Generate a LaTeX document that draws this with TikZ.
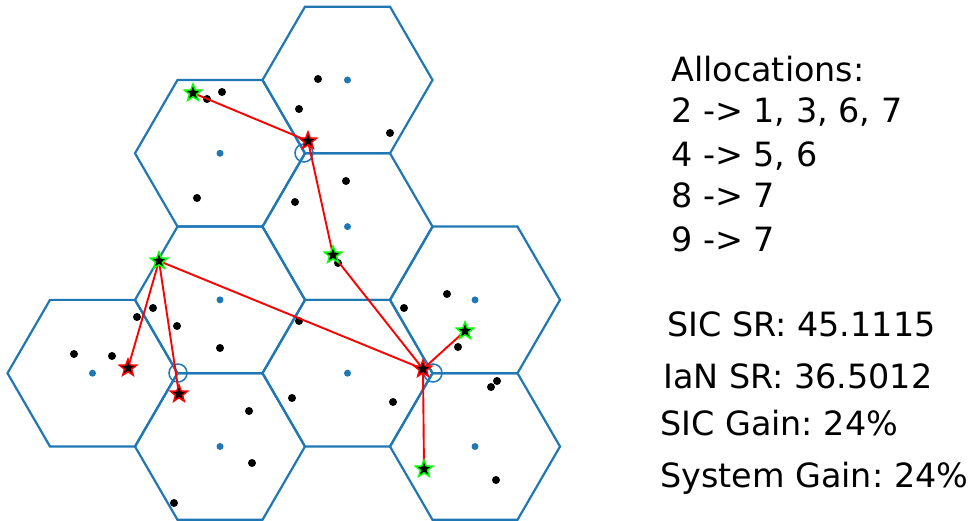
\documentclass[tikz,border=0pt]{standalone}
\usepackage{fontspec}
\setmainfont{DejaVu Sans}
\usetikzlibrary{shapes.geometric}
\definecolor{hexblue}{HTML}{1F77B4}
\definecolor{ugreen}{RGB}{0,255,0}
\definecolor{lred}{RGB}{255,0,0}
\frenchspacing
\begin{document}
\begin{tikzpicture}[x=1pt,y=-1pt,
  hexline/.style={draw=hexblue,line width=2.2pt,line join=miter},
  bsdot/.style={circle,fill=hexblue,inner sep=0,minimum size=7pt},
  udot/.style={circle,fill=black,inner sep=0,minimum size=8pt},
  link/.style={draw=lred,line width=1.9pt},
  starbase/.style={star,star points=5,star point ratio=2.4,minimum size=18pt,inner sep=0,fill=black,line width=1.5pt},
  redstar/.style={starbase,draw=lred},
  greenstar/.style={starbase,draw=ugreen},
  vcirc/.style={circle,draw=hexblue,line width=1.5pt,minimum size=18pt,inner sep=0},
  txt/.style={anchor=base west,inner sep=0,font=\fontsize{33.4}{40}\selectfont}
]
\useasboundingbox (0,0) rectangle (972,521);
% hexagons
\foreach \cx/\cy in {347.5/80, 220/153.3, 347.5/226.6, 220/299.9, 475/299.9, 92.5/373.2, 347.5/373.2, 220/446.5, 475/446.5}
  \draw[hexline] ({\cx-85},\cy) -- ({\cx-42.5},{\cy-73.3}) -- ({\cx+42.5},{\cy-73.3}) -- ({\cx+85},\cy) -- ({\cx+42.5},{\cy+73.3}) -- ({\cx-42.5},{\cy+73.3}) -- cycle;
% base station dots
\foreach \n/\cx/\cy in {1/347.5/80, 2/220/153.3, 3/347.5/226.6, 4/220/299.9, 5/475/299.9, 6/92.5/373.2, 7/347.5/373.2, 8/220/446.5, 9/475/446.5}
  \node[bsdot] (bs\n) at (\cx,\cy) {};
% user dots
\foreach \n/\x/\y in {1/318/79, 2/299/109, 3/390/133, 4/207/99, 5/222/92, 6/197/198,
  7/346/181, 8/295/202, 9/338/263, 10/153/308, 11/177/326, 12/220/348, 13/299/321,
  14/137/317, 15/74/354, 16/112/356, 17/292/398, 18/393/402, 19/447/294, 20/404/308,
  21/458/347, 22/497/381, 23/491/387, 24/496/480, 25/249/411, 26/252/463, 27/174/503}
  \node[udot] (u\n) at (\x,\y) {};
% vertex circles
\node[vcirc] (c1) at (304,153) {};
\node[vcirc] (c2) at (178,373) {};
\node[vcirc] (c3) at (433,373) {};
% star positions
\coordinate (r1) at (308,141);
\coordinate (r2) at (128,368);
\coordinate (r3) at (179,394);
\coordinate (r4) at (423,369);
\coordinate (g1) at (193,93);
\coordinate (g2) at (333,255);
\coordinate (g3) at (159,261);
\coordinate (g4) at (465,331);
\coordinate (g5) at (424,469);
% links
\draw[link] (r1) -- (g1);
\draw[link] (r1) -- (g2);
\draw[link] (g3) -- (r2);
\draw[link] (g3) -- (r3);
\draw[link] (g3) -- (r4);
\draw[link] (g2) -- (r4);
\draw[link] (r4) -- (g4);
\draw[link] (r4) -- (g5);
% stars
\foreach \s in {r1,r2,r3,r4} \node[redstar] at (\s) {};
\foreach \s in {g1,g2,g3,g4,g5} \node[greenstar] at (\s) {};
% text
\node[txt] (t1) at (671,82) {Allocations:};
\node[txt] (t2) at (671,123) {2 -> 1, 3, 6, 7};
\node[txt] (t3) at (671,166.5) {4 -> 5, 6};
\node[txt] (t4) at (671,208) {8 -> 7};
\node[txt] (t5) at (671,251.5) {9 -> 7};
\node[txt] (s1) at (667,337) {SIC SR: 45.1115};
\node[txt] (s2) at (663,388) {IaN SR: 36.5012};
\node[txt] (s3) at (660,435) {SIC Gain: 24\%};
\node[txt] (s4) at (660,487) {System Gain: 24\%};
\end{tikzpicture}
\end{document}
